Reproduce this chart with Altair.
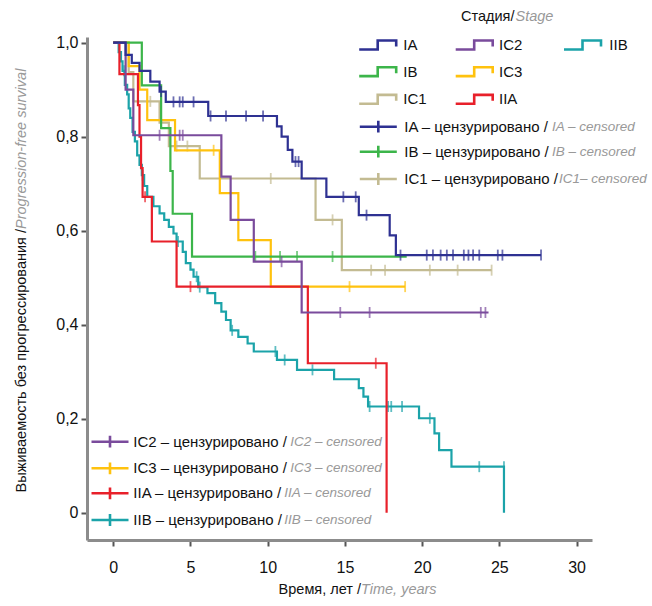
import altair as alt
import pandas as pd

FONT = "Liberation Sans"
STAGES = ["IA", "IB", "IC1", "IC2", "IC3", "IIA", "IIB"]
COLORS = ["#2e3192", "#3cb54a", "#c3bb92", "#7a4b9c", "#ffc20e", "#e8202a", "#1ba3a9"]

# Kaplan-Meier steps: time (years), survival after step; censor times
IA_T = [0, 0.8, 1.2, 1.7, 2.4, 3.0, 3.4, 6.15, 10.6, 10.9, 11.3, 11.6, 12.2, 13.8, 15.9, 17.9, 18.3, 27.7]
IA_S = [1.0, 0.974, 0.957, 0.94, 0.917, 0.896, 0.874, 0.844, 0.822, 0.8, 0.772, 0.747, 0.711, 0.672, 0.633, 0.59, 0.548, 0.548]
IA_C = [3.1, 3.9, 4.3, 4.5, 5.2, 6.3, 7.3, 8.6, 9.7, 11.8, 12.0, 14.9, 15.7, 16.4, 18.6, 20.3, 20.7,
        21.2, 21.6, 22.0, 22.7, 23.0, 23.3, 23.7, 24.9, 25.2, 27.7]

IB_T = [0, 1.85, 3.1, 3.7, 3.85, 5.1, 19.0]
IB_S = [1.0, 0.909, 0.818, 0.727, 0.636, 0.545, 0.545]
IB_C = [9.2, 10.8, 11.9, 14.2]

IC1_T = [0, 1.0, 1.3, 3.0, 3.6, 5.6, 13.1, 14.8, 24.5]
IC1_S = [1.0, 0.9375, 0.875, 0.83, 0.78, 0.711, 0.623, 0.516, 0.516]
IC1_C = [2.4, 4.1, 4.8, 10.2, 14.2, 16.7, 17.6, 20.5, 22.3, 24.5]

IC2_T = [0, 0.8, 1.3, 7.0, 7.6, 9.1, 12.2, 24.3]
IC2_S = [1.0, 0.9, 0.803, 0.715, 0.623, 0.534, 0.426, 0.426]
IC2_C = [3.0, 4.3, 4.5, 10.9, 14.7, 16.6, 23.8, 24.1]

IC3_T = [0, 1.0, 1.7, 2.2, 4.0, 6.9, 8.1, 10.2, 18.9]
IC3_S = [1.0, 0.95, 0.9, 0.835, 0.771, 0.68, 0.58, 0.481, 0.481]
IC3_C = [6.5, 15.3, 18.9]

IIA_T = [0, 0.4, 1.6, 1.7, 1.8, 1.9, 2.5, 4.1, 12.6, 17.7]
IIA_S = [1.0, 0.933, 0.867, 0.8, 0.733, 0.672, 0.577, 0.481, 0.318, 0.0]
IIA_C = [2.06, 5.0, 17.0]

IIB_T = [0, 0.35, 0.5, 0.6, 0.75, 0.9, 1.0, 1.1, 1.25, 1.4, 1.55, 1.7, 1.85, 2.0, 2.2, 2.6, 3.0, 3.3,
         3.6, 3.9, 4.1, 4.5, 4.7, 5.0, 5.2, 5.5, 6.1, 6.6, 7.0, 7.3, 7.6, 8.1, 8.7, 9.1, 10.6, 11.9,
         14.3, 15.9, 16.2, 16.5, 19.8, 20.8, 21.1, 21.9, 25.3]
IIB_S = [1.0, 0.98, 0.96, 0.94, 0.91, 0.89, 0.86, 0.84, 0.81, 0.79, 0.76, 0.74, 0.718, 0.695, 0.672,
         0.652, 0.637, 0.623, 0.608, 0.594, 0.577, 0.555, 0.531, 0.517, 0.502, 0.48, 0.467, 0.446,
         0.428, 0.41, 0.388, 0.374, 0.36, 0.343, 0.325, 0.304, 0.284, 0.265, 0.247, 0.226, 0.201,
         0.169, 0.133, 0.098, 0.0]
IIB_C = [0.7, 1.9, 4.2, 5.4, 5.6, 7.7, 10.5, 11.1, 12.9, 16.6, 17.8, 18.0, 18.7, 20.5, 23.7, 25.3]

CURVES = {
    "IA": (IA_T, IA_S, IA_C), "IB": (IB_T, IB_S, IB_C), "IC1": (IC1_T, IC1_S, IC1_C),
    "IC2": (IC2_T, IC2_S, IC2_C), "IC3": (IC3_T, IC3_S, IC3_C), "IIA": (IIA_T, IIA_S, IIA_C),
    "IIB": (IIB_T, IIB_S, IIB_C),
}
DRAW_ORDER = ["IIB", "IC1", "IC3", "IIA", "IB", "IC2", "IA"]

X_TICKS = [0, 5, 10, 15, 20, 25, 30]
Y_TICKS = [0, 0.2, 0.4, 0.6, 0.8, 1.0]

HEADER = ["Стадия/", "Stage"]
X_TITLE = ["Время, лет / ", "Time, years"]
Y_TITLE = ["Выживаемость без прогрессирования / ", "Progression-free survival"]
STEP_LEGEND_COLS = [["IA", "IB", "IC1"], ["IC2", "IC3", "IIA"], ["IIB"]]
CENSOR_TOP = ["IA", "IB", "IC1"]
CENSOR_BOTTOM = ["IC2", "IC3", "IIA", "IIB"]
CENSOR_RU = {s: s + " – цензурировано / " for s in STAGES}
CENSOR_EN = {"IA": "IA – censored", "IB": "IB – censored", "IC1": "IC1– censored",
             "IC2": "IC2 – censored", "IC3": "IC3 – censored", "IIA": "IIA – censored",
             "IIB": "IIB – censored"}

# ---------- layout (pixels) ----------
L, T, W, H = 87, 37, 505, 503
FIG_W, FIG_H = 652, 606
GRAY = "#999999"
FS_LEG = 15
FS_LEG_EN = 13.5
FS_AX = 14.5

color_scale = alt.Scale(domain=STAGES, range=COLORS)
xscale = alt.Scale(domain=[-1.7, 31.0], nice=False, zero=False)
yscale = alt.Scale(domain=[-0.058, 1.012], nice=False, zero=False)
xaxis = alt.Axis(values=X_TICKS, title=None, labelPadding=13)
yaxis = alt.Axis(values=Y_TICKS, title=None, labelPadding=3,
                 labelExpr="datum.value == 0 ? '0' : replace(format(datum.value, '.1f'), '.', ',')")

layers = []
for st in DRAW_ORDER:
    ts, ss, cs = CURVES[st]
    df = pd.DataFrame({"t": ts, "s": ss, "stage": st})
    layers.append(alt.Chart(df).mark_line(interpolate="step-after", strokeWidth=2.2).encode(
        x=alt.X("t:Q", scale=xscale, axis=xaxis),
        y=alt.Y("s:Q", scale=yscale, axis=yaxis),
        color=alt.Color("stage:N", scale=color_scale, legend=None),
    ))
    cens = []
    for c in cs:
        val = ss[0]
        for t_, s_ in zip(ts, ss):
            if t_ < c:
                val = s_
        cens.append({"t": c, "s": val, "stage": st})
    layers.append(alt.Chart(pd.DataFrame(cens)).mark_tick(orient="vertical", size=11, thickness=1.8).encode(
        x=alt.X("t:Q", scale=xscale, axis=xaxis),
        y=alt.Y("s:Q", scale=yscale, axis=yaxis),
        color=alt.Color("stage:N", scale=color_scale, legend=None),
    ))

# ---------- legends ----------
col_sym_x = [377.7, 474.2, 582.5]
col_lab_x = [403.3, 499.0, 609.3]
row_y = [45.0, 71.7, 99.3]
step_rows, black_rows, gray_rows = [], [], []
for ci, col in enumerate(STEP_LEGEND_COLS):
    for ri, st in enumerate(col):
        step_rows.append({"px": col_sym_x[ci] - L, "py": row_y[ri] - T, "stage": st})
        black_rows.append({"px": col_lab_x[ci] - L, "py": row_y[ri] - T, "txt": st})

cens_sym = []
top_y = [126.7, 151.7, 179.0]
top_gray_x = [552.0, 552.0, 559.0]
for i, st in enumerate(CENSOR_TOP):
    cens_sym.append({"px": 378.3 - L, "py": top_y[i] - T, "stage": st})
    black_rows.append({"px": 404.3 - L, "py": top_y[i] - T, "txt": CENSOR_RU[st]})
    gray_rows.append({"px": top_gray_x[i] - L, "py": top_y[i] - T, "txt": CENSOR_EN[st]})
bot_y = [441.7, 468.3, 493.3, 520.0]
bot_gray_x = [290.3, 290.3, 284.3, 284.3]
for i, st in enumerate(CENSOR_BOTTOM):
    cens_sym.append({"px": 110.0 - L, "py": bot_y[i] - T, "stage": st})
    black_rows.append({"px": 133.3 - L, "py": bot_y[i] - T, "txt": CENSOR_RU[st]})
    gray_rows.append({"px": bot_gray_x[i] - L, "py": bot_y[i] - T, "txt": CENSOR_EN[st]})

px_enc = dict(x=alt.X("px:Q", scale=None, axis=None), y=alt.Y("py:Q", scale=None, axis=None))

layers.append(alt.Chart(pd.DataFrame(step_rows)).mark_point(
    shape="M-1,0.24H0V-0.24H1V0.08", size=37 ** 2, filled=False, strokeWidth=2.6, opacity=1,
    strokeCap="butt").encode(**px_enc, color=alt.Color("stage:N", scale=color_scale, legend=None)))
layers.append(alt.Chart(pd.DataFrame(cens_sym)).mark_point(
    shape="M-1,0H1M0,-0.32V0.32", size=37 ** 2, filled=False, strokeWidth=2.6, opacity=1,
    strokeCap="butt").encode(**px_enc, color=alt.Color("stage:N", scale=color_scale, legend=None)))
layers.append(alt.Chart(pd.DataFrame(black_rows)).mark_text(
    align="left", baseline="middle", font=FONT, fontSize=FS_LEG, color="#111111").encode(**px_enc, text="txt:N"))
layers.append(alt.Chart(pd.DataFrame(gray_rows)).mark_text(
    align="left", baseline="middle", font=FONT, fontSize=FS_LEG_EN, fontStyle="italic", color=GRAY).encode(**px_enc, text="txt:N"))

# legend header
HD_J, HD_Y = 514.5, 17.0
layers.append(alt.Chart(pd.DataFrame([{"px": HD_J - L, "py": HD_Y - T, "txt": HEADER[0]}])).mark_text(
    align="right", baseline="middle", font=FONT, fontSize=FS_AX, color="#111111").encode(**px_enc, text="txt:N"))
layers.append(alt.Chart(pd.DataFrame([{"px": HD_J + 1 - L, "py": HD_Y - T, "txt": HEADER[1]}])).mark_text(
    align="left", baseline="middle", font=FONT, fontSize=FS_AX, fontStyle="italic", color=GRAY).encode(**px_enc, text="txt:N"))

# x title (black part ends where grey part starts)
XT_J, XT_Y = 361.0, 590.0
layers.append(alt.Chart(pd.DataFrame([{"px": XT_J - L, "py": XT_Y - T, "txt": X_TITLE[0]}])).mark_text(
    align="right", baseline="middle", font=FONT, fontSize=FS_AX, color="#111111").encode(**px_enc, text="txt:N"))
layers.append(alt.Chart(pd.DataFrame([{"px": XT_J - L, "py": XT_Y - T, "txt": X_TITLE[1]}])).mark_text(
    align="left", baseline="middle", font=FONT, fontSize=FS_AX, fontStyle="italic", color=GRAY).encode(**px_enc, text="txt:N"))

# y title (rotated)
YT_X, YT_J = 22.0, 229.0
layers.append(alt.Chart(pd.DataFrame([{"px": YT_X - L, "py": YT_J - T, "txt": Y_TITLE[0]}])).mark_text(
    align="right", baseline="middle", angle=270, font=FONT, fontSize=FS_AX, color="#111111").encode(**px_enc, text="txt:N"))
layers.append(alt.Chart(pd.DataFrame([{"px": YT_X - L, "py": YT_J - T, "txt": Y_TITLE[1]}])).mark_text(
    align="left", baseline="middle", angle=270, font=FONT, fontSize=FS_AX, fontStyle="italic", color=GRAY).encode(**px_enc, text="txt:N"))

chart = alt.layer(*layers).properties(
    width=W, height=H,
    autosize=alt.AutoSizeParams(type="none"),
    padding={"left": L, "top": T, "right": FIG_W - L - W, "bottom": FIG_H - T - H},
    background="white",
).configure_view(stroke=None).configure_axis(
    grid=False, domainColor="#8c8c8c", domainWidth=3, tickColor="#555555", tickWidth=2,
    tickSize=6, labelFont=FONT, labelFontSize=16, labelColor="#111111",
)

chart.save("out.html", embed_options={"renderer": "svg", "actions": False})
